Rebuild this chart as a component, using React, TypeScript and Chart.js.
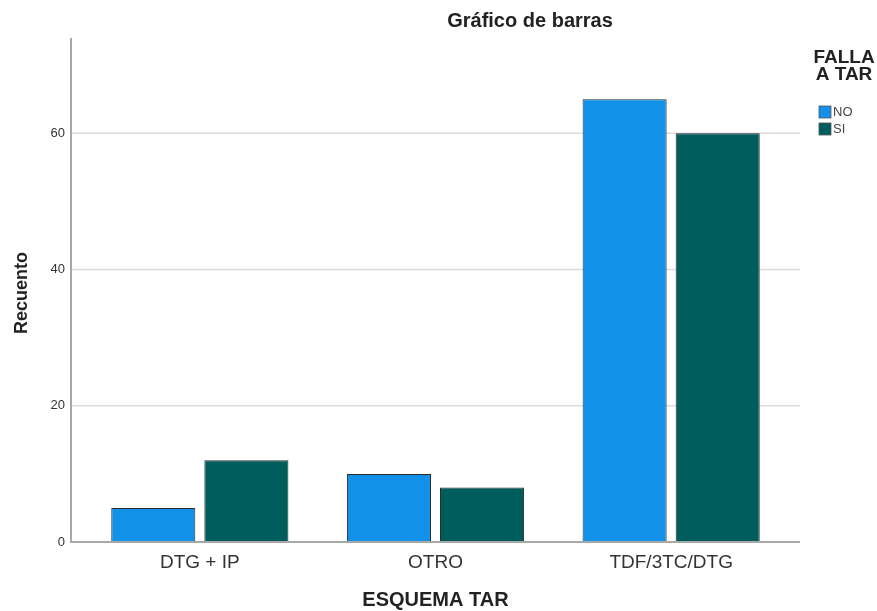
import React, { useEffect, useRef } from "react";
import { Chart, registerables } from "chart.js";

Chart.register(...registerables);

const categories = ["DTG + IP", "OTRO", "TDF/3TC/DTG"];
const seriesLabels = ["NO", "SI"];
const noValues = [5, 10, 65];
const siValues = [12, 8, 60];
const yTicks = [0, 20, 40, 60];
const yMax = 74;
const chartTitle = "Gráfico de barras";
const xTitle = "ESQUEMA TAR";
const yTitle = "Recuento";
const legendTitle = ["FALLA", "A TAR"];
const seriesColors = ["#1192e8", "#005d5d"];

const FONT = "Arial, 'Liberation Sans', sans-serif";

const decor = {
  id: "decor",
  beforeDatasetsDraw(chart: any) {
    const { ctx, chartArea: ca, scales } = chart;
    const y = scales.y;
    const left = ca.left - 11;
    const right = ca.right + 11;
    ctx.save();
    ctx.strokeStyle = "#dcdcdc";
    ctx.lineWidth = 1.5;
    for (const t of yTicks) {
      if (t === 0) continue;
      const py = y.getPixelForValue(t);
      ctx.beginPath();
      ctx.moveTo(left, py);
      ctx.lineTo(right, py);
      ctx.stroke();
    }
    ctx.restore();
  },
  afterDatasetsDraw(chart: any) {
    const { ctx, chartArea: ca } = chart;
    const left = ca.left - 11;
    const right = ca.right + 11;
    ctx.save();
    ctx.strokeStyle = "#a8a8a8";
    ctx.lineWidth = 2;
    ctx.beginPath();
    ctx.moveTo(left, ca.top);
    ctx.lineTo(left, ca.bottom);
    ctx.lineTo(right, ca.bottom);
    ctx.stroke();
    ctx.restore();
  },
  afterDraw(chart: any) {
    const { ctx, chartArea: ca } = chart;
    ctx.save();
    ctx.fillStyle = "#222";
    ctx.textAlign = "center";
    ctx.textBaseline = "middle";
    // title
    ctx.font = `bold 20px ${FONT}`;
    ctx.fillText(chartTitle, 530, 21);
    // x title
    ctx.font = `bold 20px ${FONT}`;
    ctx.fillText(xTitle, (ca.left + ca.right) / 2, 600);
    // y title
    ctx.save();
    ctx.translate(22, (ca.top + ca.bottom) / 2 + 3);
    ctx.rotate(-Math.PI / 2);
    ctx.font = `bold 18px ${FONT}`;
    ctx.fillText(yTitle, 0, 0);
    ctx.restore();
    // legend title
    ctx.font = `bold 19px ${FONT}`;
    legendTitle.forEach((l, i) => ctx.fillText(l, 844, 58 + i * 17));
    // legend items
    ctx.textAlign = "left";
    ctx.font = `13px ${FONT}`;
    chart.data.datasets.forEach((ds: any, i: number) => {
      const cy = 112 + i * 17;
      ctx.fillStyle = ds.backgroundColor;
      ctx.fillRect(819, cy - 6, 12, 12);
      ctx.strokeStyle = "#555";
      ctx.lineWidth = 0.8;
      ctx.strokeRect(819, cy - 6, 12, 12);
      ctx.fillStyle = "#444";
      ctx.fillText(ds.label, 833, cy + 0.5);
    });
    ctx.restore();
  },
};

export default function App() {
  const ref = useRef<HTMLCanvasElement>(null);
  useEffect(() => {
    document.body.style.margin = "0";
    const chart = new Chart(ref.current!, {
      type: "bar",
      data: {
        labels: categories,
        datasets: [
          {
            label: seriesLabels[0],
            data: noValues,
            backgroundColor: seriesColors[0],
            borderColor: "#2a2a2a",
            borderWidth: 1,
          },
          {
            label: seriesLabels[1],
            data: siValues,
            backgroundColor: seriesColors[1],
            borderColor: "#2a2a2a",
            borderWidth: 1,
          },
        ],
      },
      options: {
        animation: false,
        responsive: false,
        layout: { padding: { top: 38, right: 88, left: 0, bottom: 0 } },
        datasets: { bar: { categoryPercentage: 0.79, barPercentage: 0.903 } },
        plugins: { legend: { display: false }, title: { display: false }, tooltip: { enabled: false } },
        scales: {
          x: {
            grid: { display: false, drawTicks: false },
            border: { display: false },
            ticks: { font: { family: FONT, size: 19 }, color: "#333", padding: 9 },
            afterFit: (s: any) => {
              s.height = 69;
            },
          },
          y: {
            min: 0,
            max: yMax,
            grid: { display: false, drawTicks: false },
            border: { display: false },
            ticks: { font: { family: FONT, size: 13 }, color: "#333", padding: 17 },
            afterBuildTicks: (s: any) => {
              s.ticks = yTicks.map((v) => ({ value: v }));
            },
            afterFit: (s: any) => {
              s.width = 82;
            },
          },
        },
      },
      plugins: [decor],
    });
    return () => chart.destroy();
  }, []);
  return (
    <div style={{ position: "absolute", left: 0, top: 0, width: 877, height: 611, background: "#fff" }}>
      <canvas ref={ref} width={877} height={611} />
    </div>
  );
}
